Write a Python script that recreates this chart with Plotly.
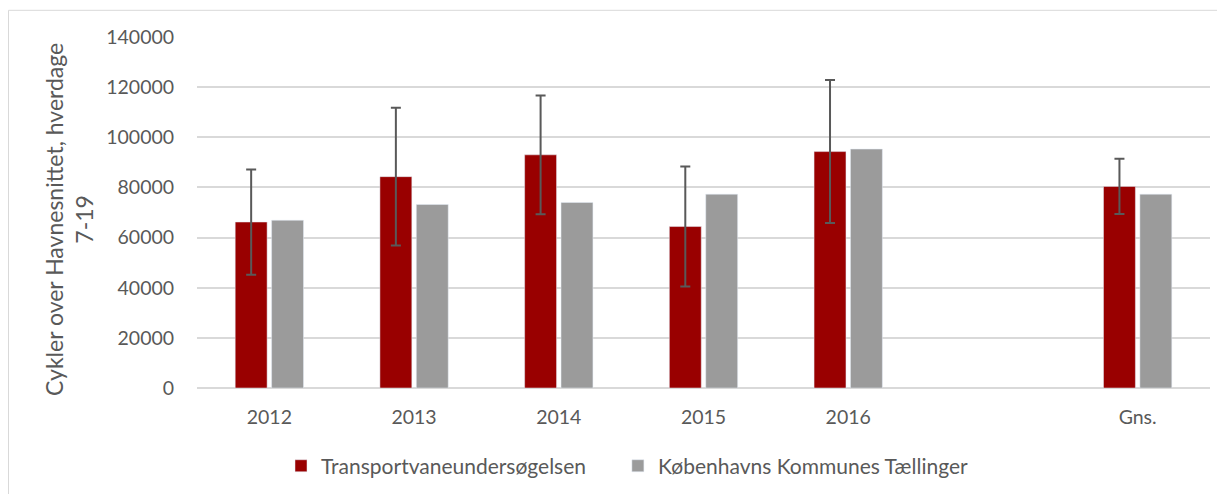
import plotly.graph_objects as go

categories = ["2012", "2013", "2014", "2015", "2016", " ", "Gns."]
tvu_values = [66200, 84300, 93000, 64400, 94300, None, 80400]
tvu_errors = [21000, 27500, 23700, 23900, 28500, None, 11000]
kk_values = [66900, 73200, 74000, 77300, 95300, None, 77300]
y_ticks = [0, 20000, 40000, 60000, 80000, 100000, 120000, 140000]
series_names = ["Transportvaneundersøgelsen", "Københavns Kommunes Tællinger"]

FONT = "Lato"
TXT = "#595959"

# page body has an 8px margin; figure sized so it fits the 1225x502 window
W, H = 1209, 486
L, T = 189, 29
R = W - 1202
B = H - 384
pw = W - L - R
ph = H - T - B


def px(xf):
    return (xf - L) / pw


def py(yf):
    return (H - B - yf) / ph


fig = go.Figure()
fig.add_trace(go.Bar(
    name=series_names[0] + "\u00a0" * 5, x=categories, y=tvu_values,
    marker=dict(color="#990000"),
    error_y=dict(type="data", array=tvu_errors, visible=True,
                 color="#595959", thickness=2, width=5),
))
fig.add_trace(go.Bar(
    name=series_names[1], x=categories, y=kk_values,
    marker=dict(color="#9b9b9b"),
))

fig.update_layout(
    width=W, height=H,
    margin=dict(l=L, r=R, t=T, b=B),
    paper_bgcolor="white", plot_bgcolor="white",
    barmode="group", bargap=0.497, bargroupgap=0.123,
    font=dict(family=FONT, size=19.5, color=TXT),
    showlegend=True,
    legend=dict(orientation="h", x=px(273), xanchor="left",
                y=py(463), yanchor="middle",
                font=dict(family=FONT, size=21, color=TXT),
                bgcolor="rgba(0,0,0,0)"),
    xaxis=dict(type="category", categoryorder="array", categoryarray=categories,
               range=[-0.5, 6.5], showgrid=False, showline=False,
               ticks="outside", ticklen=12, tickcolor="rgba(0,0,0,0)",
               tickfont=dict(family=FONT, size=19.5, color=TXT)),
    yaxis=dict(range=[0, 140000], tickvals=y_ticks, ticktext=[str(v) for v in y_ticks],
               showgrid=True, gridcolor="#d9d9d9", gridwidth=1.5,
               zeroline=True, zerolinecolor="#d9d9d9", zerolinewidth=1.5,
               showline=False, ticks="outside", ticklen=18,
               tickcolor="rgba(0,0,0,0)",
               tickfont=dict(family=FONT, size=19.5, color=TXT)),
)

fig.add_annotation(
    text="Cykler over Havnesnittet, hverdage<br>7-19",
    xref="paper", yref="paper",
    x=px(61), y=py(214),
    xanchor="center", yanchor="middle", textangle=-90,
    showarrow=False, align="center",
    font=dict(family=FONT, size=23, color=TXT),
)

fig.add_shape(
    type="rect", xref="paper", yref="paper",
    x0=px(0.5), x1=px(1240),
    y0=py(520), y1=py(2),
    line=dict(color="#d9d9d9", width=1), fillcolor="rgba(0,0,0,0)", layer="below",
)

fig.write_html("out.html")
